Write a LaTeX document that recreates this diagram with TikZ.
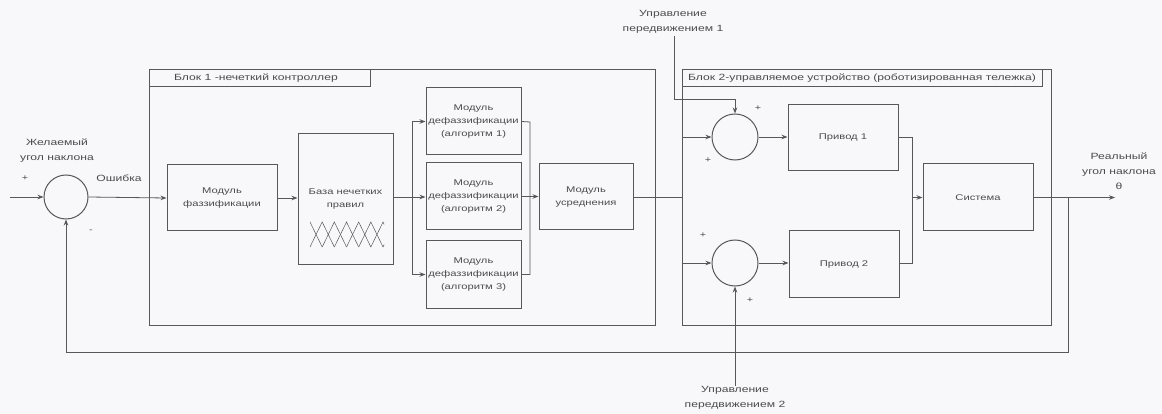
\documentclass[tikz,border=0pt]{standalone}
\usepackage{fontspec}
\setmainfont{Liberation Sans}[FakeStretch=1.35]
\usetikzlibrary{arrows.meta,calc}
\definecolor{ln}{RGB}{88,88,88}
\definecolor{tx}{RGB}{75,75,75}
\definecolor{bg}{RGB}{248,248,251}
\tikzset{
 blk/.style={draw=ln,line width=1pt},
 mod/.style={draw=ln,line width=1pt,align=center,font=\fontsize{8.3}{13}\selectfont,text=tx,inner sep=0pt},
 sumc/.style={draw=ln,line width=1pt,circle,inner sep=0pt},
 wire/.style={draw=ln,line width=0.8pt},
 arr/.style={wire,-{Stealth[length=6pt,width=4.5pt]}},
 lbl/.style={text=tx,font=\fontsize{9}{15}\selectfont,align=center,inner sep=0pt},
 ttl/.style={text=tx,font=\fontsize{9}{11}\selectfont,inner sep=0pt},
 sgn/.style={text=tx,font=\fontsize{8}{8}\selectfont,inner sep=0pt},
}
\begin{document}
\begin{tikzpicture}[x=1pt,y=-1pt]
\useasboundingbox (0,0) rectangle (1162,414);
\fill[bg] (0,0) rectangle (1162,414);

% block frames
\draw[blk] (149,70) rectangle (655,325);
\draw[blk] (149,70) rectangle (370,87);
\node[ttl] (t1) at (256,78) {Блок 1 -нечеткий контроллер};
\draw[blk] (682,70) rectangle (1051,325);
\draw[blk] (682,70) rectangle (1042,87);
\node[ttl] (t2) at (862,78) {Блок 2-управляемое устройство (роботизированная тележка)};

% summing junctions
\node[sumc,minimum size=44pt] (sumA) at (66,197) {};
\node[sumc,minimum size=46pt] (sum1) at (735,137) {};
\node[sumc,minimum size=46pt] (sum2) at (735,263) {};

% modules
\node[mod,minimum width=110pt,minimum height=66pt] (fuzz) at (222,198) {Модуль\\фаззификации};
\node[mod,minimum width=95pt,minimum height=130pt] (base) at (345.5,199) {База нечетких\\правил};
\node[mod,minimum width=95pt,minimum height=67pt] (d1) at (473.5,121.5) {Модуль\\дефаззификации\\(алгоритм 1)};
\node[mod,minimum width=95pt,minimum height=67pt] (d2) at (473.5,196.5) {Модуль\\дефаззификации\\(алгоритм 2)};
\node[mod,minimum width=95pt,minimum height=67pt] (d3) at (473.5,274.5) {Модуль\\дефаззификации\\(алгоритм 3)};
\node[mod,minimum width=94pt,minimum height=66pt] (avg) at (586,197) {Модуль\\усреднения};
\node[mod,minimum width=110pt,minimum height=66pt] (p1) at (843,138) {Привод 1};
\node[mod,minimum width=110pt,minimum height=66pt] (p2) at (844,264) {Привод 2};
\node[mod,minimum width=110pt,minimum height=67pt] (sys) at (978,197.5) {Система};

% membership functions
\begin{scope}
\clip (310,219) rectangle (384,250);
\foreach \i in {-1,...,7}{
  \draw[ln,line width=0.5pt] ({310+(\i-1)*12.17},247) -- ({310+\i*12.17},222) -- ({310+(\i+1)*12.17},247);
}
\end{scope}

% labels
\node[lbl] (lin) at (57,150.5) {Желаемый\\угол наклона};
\node[lbl] (lerr) at (119,178) {Ошибка};
\node[lbl] (lout) at (1119,171) {Реальный\\угол наклона\\θ};
\node[lbl] (ctl1) at (673,22) {Управление\\передвижением 1};
\node[lbl] (ctl2) at (735,398) {Управление\\передвижением 2};

% signs
\node[sgn] (sA1) at (25,178) {+};
\node[sgn] (sA2) at (91,231) {-};
\node[sgn] (s11) at (758,108) {+};
\node[sgn] (s12) at (708,160) {+};
\node[sgn] (s21) at (703,235) {+};
\node[sgn] (s22) at (750,300) {+};

% coordinates
\coordinate (in) at (10,197);
\coordinate (br1) at (412,197);
\coordinate (mg1) at (530,122);
\coordinate (br2) at (682,197);
\coordinate (mg2) at (912,197.5);
\coordinate (out) at (1115,197.5);
\coordinate (fb) at (1068,197.5);
\coordinate (fbR) at (1068,352);
\coordinate (fbL) at (66,352);
\coordinate (c1a) at (674,36);
\coordinate (c1b) at (674,99);

% connectors
\draw[arr] (in) -- (sumA.west);
\draw[arr] (sumA.east) -- (fuzz.west);
\draw[arr] (fuzz.east) -- (base.west |- fuzz.east);
\draw[wire] (base.east |- br1) -- (br1);
\draw[arr] (br1) |- (d1.west);
\draw[arr] (br1) -- (d2.west |- br1);
\draw[arr] (br1) |- (d3.west);
\draw[wire] (d1.east) -- (mg1) |- (d3.east);
\draw[arr] (d2.east) -- (avg.west |- d2.east);
\draw[wire] (avg.east) -- (br2);
\draw[arr] (br2) |- (sum1.west);
\draw[arr] (br2) |- (sum2.west);
\draw[arr] (sum1.east) -- (p1.west |- sum1.east);
\draw[arr] (sum2.east) -- (p2.west |- sum2.east);
\draw[wire] (p1.east |- sum1.east) -| (mg2) |- (p2.east |- sum2.east);
\draw[arr] (mg2) -- (sys.west);
\draw[arr] (sys.east) -- (out);
\draw[arr] (fb) -- (fbR) -- (fbL) -- (sumA.south);
\draw[arr] (c1a) -- (c1b) -| (sum1.north);
\draw[arr] (ctl2.north) -- (sum2.south);
\end{tikzpicture}
\end{document}
